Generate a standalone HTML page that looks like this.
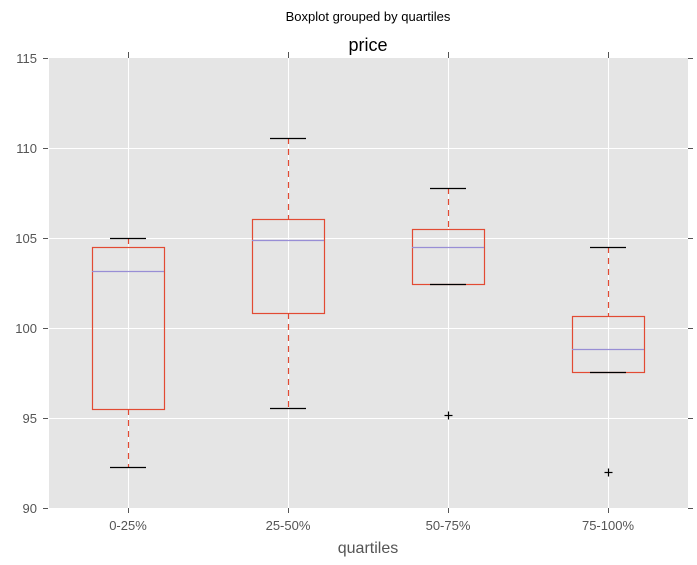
<!DOCTYPE html><html><head><style>body{margin:0;background:#fff}svg{display:block}text{font-family:"Liberation Sans",sans-serif}</style></head><body>
<svg width="697" height="565" xmlns="http://www.w3.org/2000/svg">
<rect width="697" height="565" fill="#fff"/>
<rect x="49" y="58" width="639" height="450" fill="#E5E5E5"/>
<g stroke="#fff" stroke-width="1">
<line x1="49" x2="688" y1="148.5" y2="148.5"/><line x1="49" x2="688" y1="238.5" y2="238.5"/><line x1="49" x2="688" y1="328.5" y2="328.5"/><line x1="49" x2="688" y1="418.5" y2="418.5"/>
<line x1="128.5" x2="128.5" y1="58" y2="508"/><line x1="288.5" x2="288.5" y1="58" y2="508"/><line x1="448.5" x2="448.5" y1="58" y2="508"/><line x1="608.5" x2="608.5" y1="58" y2="508"/>
</g>
<g stroke="#555" stroke-width="1">
<line x1="43" x2="48" y1="58.5" y2="58.5"/><line x1="43" x2="48" y1="148.5" y2="148.5"/><line x1="43" x2="48" y1="238.5" y2="238.5"/><line x1="43" x2="48" y1="328.5" y2="328.5"/><line x1="43" x2="48" y1="418.5" y2="418.5"/><line x1="43" x2="48" y1="508.5" y2="508.5"/>
<line x1="688" x2="693" y1="58.5" y2="58.5"/><line x1="688" x2="693" y1="148.5" y2="148.5"/><line x1="688" x2="693" y1="238.5" y2="238.5"/><line x1="688" x2="693" y1="328.5" y2="328.5"/><line x1="688" x2="693" y1="418.5" y2="418.5"/><line x1="688" x2="693" y1="508.5" y2="508.5"/>
<line x1="128.5" x2="128.5" y1="52" y2="58"/><line x1="288.5" x2="288.5" y1="52" y2="58"/><line x1="448.5" x2="448.5" y1="52" y2="58"/><line x1="608.5" x2="608.5" y1="52" y2="58"/>
<line x1="128.5" x2="128.5" y1="508" y2="513"/><line x1="288.5" x2="288.5" y1="508" y2="513"/><line x1="448.5" x2="448.5" y1="508" y2="513"/><line x1="608.5" x2="608.5" y1="508" y2="513"/>
</g>
<g font-size="13" fill="#555" text-anchor="end">
<text x="37" y="63">115</text><text x="37" y="153">110</text><text x="37" y="243">105</text><text x="37" y="333">100</text><text x="37" y="423">95</text><text x="37" y="513">90</text>
</g>
<g font-size="13" fill="#555" text-anchor="middle">
<text x="128" y="530">0-25%</text><text x="288" y="530">25-50%</text><text x="448" y="530">50-75%</text><text x="608" y="530">75-100%</text>
</g>
<text x="368" y="553" font-size="16" fill="#555" text-anchor="middle">quartiles</text>
<text x="368" y="51" font-size="18" fill="#000" text-anchor="middle">price</text>
<text x="368" y="21" font-size="13" fill="#000" text-anchor="middle">Boxplot grouped by quartiles</text>
<g fill="none" stroke="#E24A33" stroke-width="1.2">
<rect x="92.5" y="247.5" width="72" height="162"/>
<rect x="252.5" y="219.5" width="72" height="94"/>
<rect x="412.5" y="229.5" width="72" height="55"/>
<rect x="572.5" y="316.5" width="72" height="56"/>
<g stroke-dasharray="6,5">
<line x1="128.5" x2="128.5" y1="409" y2="467"/><line x1="128.5" x2="128.5" y1="238" y2="247"/>
<line x1="288.5" x2="288.5" y1="313" y2="408"/><line x1="288.5" x2="288.5" y1="138" y2="219"/>
<line x1="448.5" x2="448.5" y1="188" y2="229"/>
<line x1="608.5" x2="608.5" y1="247" y2="316"/>
</g></g>
<g stroke="#988ED5" stroke-width="1.2">
<line x1="92" x2="164" y1="271.5" y2="271.5"/><line x1="252" x2="324" y1="240.5" y2="240.5"/><line x1="412" x2="484" y1="247.5" y2="247.5"/><line x1="572" x2="644" y1="349.5" y2="349.5"/>
</g>
<g stroke="#000" stroke-width="1.2">
<line x1="110" x2="146" y1="238.5" y2="238.5"/><line x1="110" x2="146" y1="467.5" y2="467.5"/>
<line x1="270" x2="306" y1="138.5" y2="138.5"/><line x1="270" x2="306" y1="408.5" y2="408.5"/>
<line x1="430" x2="466" y1="188.5" y2="188.5"/><line x1="430" x2="466" y1="284.5" y2="284.5"/>
<line x1="590" x2="626" y1="247.5" y2="247.5"/><line x1="590" x2="626" y1="372.5" y2="372.5"/>
<line x1="444.5" x2="452.5" y1="415.5" y2="415.5"/><line x1="448.5" x2="448.5" y1="411.5" y2="419.5"/>
<line x1="604.5" x2="612.5" y1="472.5" y2="472.5"/><line x1="608.5" x2="608.5" y1="468.5" y2="476.5"/>
</g>
</svg></body></html>
